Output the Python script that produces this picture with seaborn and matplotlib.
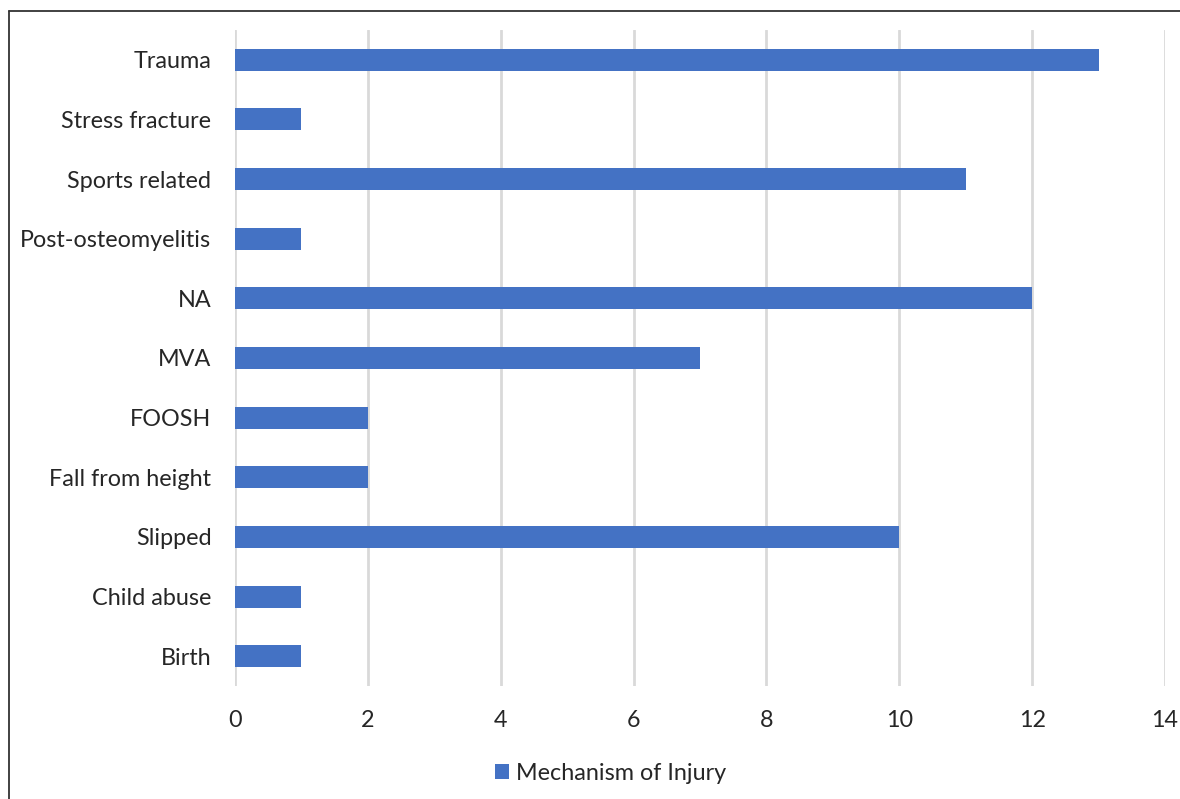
import matplotlib
matplotlib.use("Agg")
import matplotlib.pyplot as plt
import seaborn as sns
import pandas as pd
from matplotlib.lines import Line2D
from matplotlib.patches import Patch

categories = ["Trauma", "Stress fracture", "Sports related", "Post-osteomyelitis",
              "NA", "MVA", "FOOSH", "Fall from height", "Slipped", "Child abuse", "Birth"]
counts = [13, 1, 11, 1, 12, 7, 2, 2, 10, 1, 1]
series_name = "Mechanism of Injury"
x_ticks = [0, 2, 4, 6, 8, 10, 12, 14]

df = pd.DataFrame({"mechanism": categories, "count": counts})

sns.set_style("white")
plt.rcParams["font.family"] = ["Lato", "DejaVu Sans"]

bar_color = "#4472C4"
text_color = "#262626"

fig = plt.figure(figsize=(11.8, 7.99), dpi=100)
ax = fig.add_axes([235 / 1180, 1 - 686 / 799, 930 / 1180, 656 / 799])

sns.barplot(data=df, y="mechanism", x="count", orient="h", color=bar_color,
            width=0.37, saturation=1, ax=ax, order=categories, linewidth=0)

ax.set_xlim(0, 14)
ax.set_ylim(len(categories) - 0.5, -0.5)
ax.set_xticks(x_ticks)
ax.set_xticklabels([str(t) for t in x_ticks])
ax.xaxis.grid(True, color="#d9d9d9", linewidth=2)
ax.yaxis.grid(False)
ax.set_axisbelow(True)
for s in ax.spines.values():
    s.set_visible(False)
ax.tick_params(axis="both", length=0, labelsize=16.8, colors=text_color)
ax.tick_params(axis="y", pad=17)
ax.tick_params(axis="x", pad=17)
ax.set_xlabel("")
ax.set_ylabel("")

handle = Patch(facecolor=bar_color, edgecolor="none")
fig.legend([handle], [series_name], loc="center", bbox_to_anchor=(611 / 1180, 1 - 773 / 799),
           frameon=False, fontsize=16.8, handlelength=0.6, handleheight=0.6,
           handletextpad=0.3, labelcolor=text_color)

# outer frame (top and left edges)
fig.add_artist(Line2D([9 / 1180, 1.0], [1 - 11 / 799, 1 - 11 / 799], color="#333333",
                      linewidth=1.3, transform=fig.transFigure))
fig.add_artist(Line2D([9 / 1180, 9 / 1180], [0.0, 1 - 11 / 799], color="#333333",
                      linewidth=1.3, transform=fig.transFigure))

fig.savefig("out.png", dpi=100)
